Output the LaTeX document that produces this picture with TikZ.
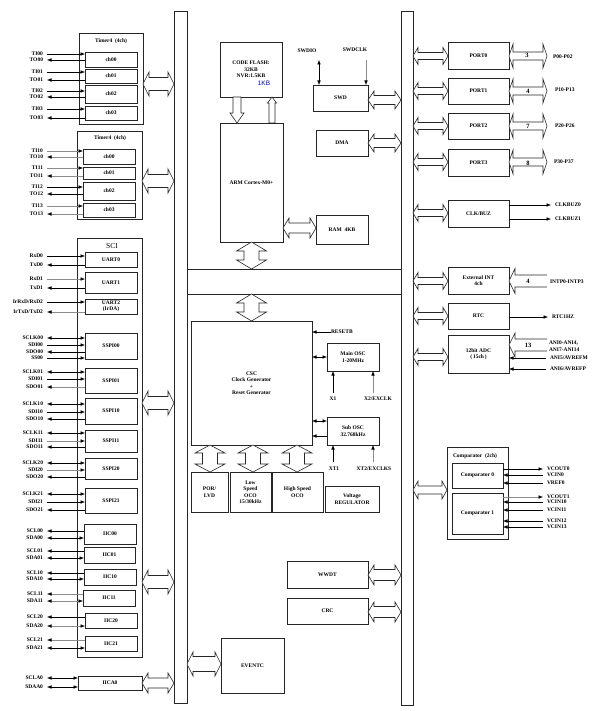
\documentclass[tikz,border=0pt]{standalone}
\usepackage{fontspec}
\setmainfont{Liberation Serif}
\setsansfont{Liberation Sans}
\usetikzlibrary{calc,arrows.meta}
\newcommand\lbf{\fontsize{5.5}{6.5}\selectfont\bfseries}
\newcommand\bx[6]{\node[box, minimum width={(#4-#2)*1pt}, minimum height={(#5-#3)*1pt}] (#1) at ({(#2+#4)/2},{(#3+#5)/2}) {#6};}
% horizontal double block arrow: left point, right point, head half, shaft half, head length
\newcommand\HDA[5]{\draw[barrow] let \p1=(#1), \p2=(#2) in (\x1,\y1) -- (\x1+#5,\y1+#3) -- (\x1+#5,\y1+#4) -- (\x2-#5,\y1+#4) -- (\x2-#5,\y1+#3) -- (\x2,\y1) -- (\x2-#5,\y1-#3) -- (\x2-#5,\y1-#4) -- (\x1+#5,\y1-#4) -- (\x1+#5,\y1-#3) -- cycle;}
% vertical double block arrow: top point, bottom point
\newcommand\VDA[5]{\draw[barrow] let \p1=(#1), \p2=(#2) in (\x1,\y1) -- (\x1+#3,\y1-#5) -- (\x1+#4,\y1-#5) -- (\x1+#4,\y2+#5) -- (\x1+#3,\y2+#5) -- (\x1,\y2) -- (\x1-#3,\y2+#5) -- (\x1-#4,\y2+#5) -- (\x1-#4,\y1-#5) -- (\x1-#3,\y1-#5) -- cycle;}
% single down arrow (tip at bottom)
\newcommand\VDown[5]{\draw[barrow] let \p1=(#1), \p2=(#2) in (\x1-#4,\y1) -- (\x1-#4,\y2+#5) -- (\x1-#3,\y2+#5) -- (\x1,\y2) -- (\x1+#3,\y2+#5) -- (\x1+#4,\y2+#5) -- (\x1+#4,\y1) -- cycle;}
% single up arrow (tip at top)
\newcommand\VUp[5]{\draw[barrow] let \p1=(#1), \p2=(#2) in (\x1-#4,\y2) -- (\x1-#4,\y1-#5) -- (\x1-#3,\y1-#5) -- (\x1,\y1) -- (\x1+#3,\y1-#5) -- (\x1+#4,\y1-#5) -- (\x1+#4,\y2) -- cycle;}
% left pointing input block arrow (tip at first point), open tail
\newcommand\HIn[5]{\draw[barrow] let \p1=(#1), \p2=(#2) in (\x2,\y1+#4) -- (\x1+#5,\y1+#4) -- (\x1+#5,\y1+#3) -- (\x1,\y1) -- (\x1+#5,\y1-#3) -- (\x1+#5,\y1-#4) -- (\x2,\y1-#4);}
% left pin: name, y, text, box, style
\newcommand\lp[5]{\node[lbl, anchor=east] (#1) at (43,#2) {#3}; \draw[#5] ([xshift=4pt]#1.east) -- (#4.west |- #1.east);}
% right pin: name, x, y, text, box, style
\newcommand\rp[6]{\node[lbl, anchor=west] (#1) at (#2,#3) {#4}; \draw[#6] (#5.east |- #1.west) -- ([xshift=-4pt]#1.west);}
\begin{document}
\begin{tikzpicture}[x=1pt,y=-1pt,
 box/.style={draw=black!85, line width=0.6pt, inner sep=0pt, outer sep=0pt, align=center, font=\lbf},
 lbl/.style={inner sep=0pt, outer sep=0pt, font=\lbf},
 barrow/.style={draw=black!85, line width=0.6pt, fill=white, line join=miter},
 tip/.tip={Latex[length=4.5pt,width=3.6pt,color=black]},
 tE/.style={-tip, line width=0.55pt},
 tS/.style={tip-, line width=0.55pt},
 tB/.style={tip-tip, line width=0.55pt},
 gry/.style={draw=black!45},
 num/.style={inner sep=0pt, font=\fontsize{6.5}{7}\selectfont\bfseries}
]
\useasboundingbox[fill=white] (0,0) rectangle (599,711);

% ---------- buses ----------
\bx{lbus}{174}{11}{187}{703}{}
\bx{rbus}{401}{11}{413}{705}{}
\draw[line width=0.6pt, black!85] (lbus.east |- 0,269) -- (rbus.west |- 0,269);
\draw[line width=0.6pt, black!85] (lbus.east |- 0,294) -- (rbus.west |- 0,294);

% ---------- Timer A ----------
\bx{tmA}{79}{33}{143}{124}{}
\node[lbl] (tmAt) at (111,41) {Timer4\ \ (4ch)};
\bx{tA0}{85}{52}{137}{67}{ch00}
\bx{tA1}{85}{69}{137}{83}{ch01}
\bx{tA2}{85}{85}{137}{103}{ch02}
\bx{tA3}{85}{106}{137}{120}{ch03}
\lp{ti00}{54}{TI00}{tA0}{tE}
\lp{to00}{60}{TO00}{tA0}{tS}
\lp{ti01}{72}{TI01}{tA1}{tE}
\lp{to01}{80}{TO01}{tA1}{tS}
\lp{ti02}{91}{TI02}{tA2}{tE}
\lp{to02}{97}{TO02}{tA2}{tS}
\lp{ti03}{109}{TI03}{tA3}{tE}
\lp{to03}{118}{TO03}{tA3}{tS}
\HDA{tmA.east |- 0,84}{lbus.west |- 0,84}{12pt}{6.5pt}{6pt}

% ---------- Timer B ----------
\bx{tmB}{77}{131}{142}{219}{}
\node[lbl] (tmBt) at (110,138) {Timer4\ \ (4ch)};
\bx{tB0}{83}{149}{135}{164}{ch00}
\bx{tB1}{83}{167}{135}{179}{ch01}
\bx{tB2}{83}{182}{135}{200}{ch02}
\bx{tB3}{83}{203}{135}{217}{ch03}
\lp{ti10}{151}{TI10}{tB0}{tE,gry}
\lp{to10}{157}{TO10}{tB0}{tS,gry}
\lp{ti11}{168}{TI11}{tB1}{tE,gry}
\lp{to11}{176}{TO11}{tB1}{tS,gry}
\lp{ti12}{187}{TI12}{tB2}{tE}
\lp{to12}{194}{TO12}{tB2}{tS}
\lp{ti13}{206}{TI13}{tB3}{tE,gry}
\lp{to13}{214}{TO13}{tB3}{tS,gry}
\HDA{tmB.east |- 0,181}{lbus.west |- 0,181}{12pt}{6.5pt}{6pt}

% ---------- SCI ----------
\bx{sci}{77}{238}{142}{657}{}
\node[inner sep=0pt, font=\fontsize{7.5}{8}\selectfont] (scit) at (112,246) {SCI};
\bx{u0}{85}{252}{137}{267}{UART0}
\bx{u1}{85}{272}{137}{293}{UART1}
\bx{u2}{85}{299}{137}{314}{UART2\\(IrDA)}
\bx{s00}{85}{333}{137}{359}{SSPI00}
\bx{s01}{85}{368}{137}{393}{SSPI01}
\bx{s10}{85}{398}{137}{424}{SSPI10}
\bx{s11}{85}{430}{137}{452}{SSPI11}
\bx{s20}{85}{458}{137}{479}{SSPI20}
\bx{s21}{85}{488}{137}{513}{SSPI21}
\bx{i00}{84}{524}{136}{544}{IIC00}
\bx{i01}{84}{547}{135}{563}{IIC01}
\bx{i10}{84}{569}{136}{585}{IIC10}
\bx{i11}{83}{590}{135}{606}{IIC11}
\bx{i20}{85}{613}{137}{628}{IIC20}
\bx{i21}{85}{636}{137}{651}{IIC21}
\lp{rxd0}{256}{RxD0}{u0}{tE}
\lp{txd0}{265}{TxD0}{u0}{tS}
\lp{rxd1}{279}{RxD1}{u1}{tE,gry}
\lp{txd1}{288}{TxD1}{u1}{tS}
\lp{rxd2}{302}{IrRxD/RxD2}{u2}{tE}
\lp{txd2}{312}{IrTxD/TxD2}{u2}{tS,gry}
\lp{sclk00}{338}{SCLK00}{s00}{tB}
\lp{sdi00}{345}{SDI00}{s00}{tE}
\lp{sdo00}{352}{SDO00}{s00}{tS}
\lp{ss00}{358}{SS00}{s00}{tE}
\lp{sclk01}{372}{SCLK01}{s01}{tB}
\lp{sdi01}{379}{SDI01}{s01}{tE}
\lp{sdo01}{387}{SDO01}{s01}{tS,gry}
\lp{sclk10}{404}{SCLK10}{s10}{tB}
\lp{sdi10}{412}{SDI10}{s10}{tE}
\lp{sdo10}{419}{SDO10}{s10}{tS}
\lp{sclk11}{433}{SCLK11}{s11}{tB}
\lp{sdi11}{441}{SDI11}{s11}{tE,gry}
\lp{sdo11}{447}{SDO11}{s11}{tS}
\lp{sclk20}{463}{SCLK20}{s20}{tB}
\lp{sdi20}{470}{SDI20}{s20}{tE,gry}
\lp{sdo20}{477}{SDO20}{s20}{tS}
\lp{sclk21}{494}{SCLK21}{s21}{tB}
\lp{sdi21}{502}{SDI21}{s21}{tE}
\lp{sdo21}{510}{SDO21}{s21}{tS}
\lp{scl00}{531}{SCL00}{i00}{tS}
\lp{sda00}{538}{SDA00}{i00}{tB}
\lp{scl01}{551}{SCL01}{i01}{tS}
\lp{sda01}{558}{SDA01}{i01}{tB}
\lp{scl10}{573}{SCL10}{i10}{tS}
\lp{sda10}{579}{SDA10}{i10}{tB}
\lp{scl11}{594}{SCL11}{i11}{tS,gry}
\lp{sda11}{601}{SDA11}{i11}{tB,gry}
\lp{scl20}{617}{SCL20}{i20}{tS}
\lp{sda20}{626}{SDA20}{i20}{tB,gry}
\lp{scl21}{640}{SCL21}{i21}{tS,gry}
\lp{sda21}{648}{SDA21}{i21}{tB}
\HDA{sci.east |- 0,403}{lbus.west |- 0,403}{12pt}{6.5pt}{6pt}
\HDA{sci.east |- 0,582}{lbus.west |- 0,582}{12pt}{6.5pt}{6pt}

% ---------- IICA0 ----------
\bx{iica}{78}{676}{142}{690}{IICA0}
\lp{scla0}{678}{SCLA0}{iica}{tB}
\lp{sdaa0}{687}{SDAA0}{iica}{tB}
\HDA{iica.east |- 0,683}{lbus.west |- 0,683}{10pt}{5pt}{6pt}

% ---------- upper centre ----------
\bx{flash}{220}{42}{282}{97}{CODE FLASH:\\32KB\\NVR:1.5KB}
\node[inner sep=0pt, font=\sffamily\fontsize{6.5}{7}\selectfont, text=blue!80!black] (kb1) at (264,83) {1KB};
\bx{arm}{220}{123}{283}{242}{ARM Cortex-M0+}
\VDown{flash.south -| 237,0}{arm.north -| 237,0}{7pt}{4pt}{10pt}
\VUp{flash.south -| 272,0}{arm.north -| 272,0}{4.5pt}{3pt}{6pt}
\bx{swd}{313}{85}{368}{111}{SWD}
\bx{dma}{316}{130}{368}{156}{DMA}
\bx{ram}{316}{215}{368}{244}{RAM\ \ 4KB}
\node[lbl] (swdio) at (307,51) {SWDIO};
\node[lbl] (swdclk) at (355,50) {SWDCLK};
\coordinate (swdioE) at (319,60);
\coordinate (swdclkE) at (366,60);
\draw[tB] (swdioE) -- (swd.north -| swdioE);
\draw[tE,gry] (swdclkE) -- (swd.north -| swdclkE);
\HDA{swd.east |- 0,100}{rbus.west |- 0,100}{9pt}{4.5pt}{6pt}
\HDA{dma.east |- 0,143}{rbus.west |- 0,143}{9pt}{4.5pt}{6pt}
\HDA{arm.east |- 0,228}{ram.west |- 0,228}{10pt}{5pt}{6pt}
\VDA{arm.south}{arm.south |- 0,269}{15pt}{7.5pt}{9pt}

% ---------- lower centre ----------
\bx{csc}{191}{321}{312}{445}{CSC\\Clock Generator\\+\\Reset Generator}
\VDA{csc.north |- 0,294}{csc.north}{15pt}{7.5pt}{9pt}
\bx{mosc}{327}{343}{379}{371}{Main OSC\\1-20MHz}
\bx{sosc}{327}{417}{379}{445}{Sub OSC\\32.768kHz}
\node[lbl, anchor=west] (rst) at (331,332) {RESETB};
\draw[tE] (rst.west) -- (csc.east |- rst.west);
\draw[tB] (csc.east |- 0,357) -- (mosc.west |- 0,357);
\draw[tB] (csc.east |- 0,421) -- (sosc.west |- 0,421);
\draw[tE] (sosc.west |- 0,436) -- (csc.east |- 0,436);
\node[lbl] (x1) at (333,399) {X1};
\node[lbl] (x2) at (378,399) {X2/EXCLK};
\coordinate (x1E) at (333,393);
\coordinate (x2E) at (373,393);
\draw[tE] (x1E) -- (mosc.south -| x1E);
\draw[tE,gry] (x2E) -- (mosc.south -| x2E);
\node[lbl] (xt1) at (334,469) {XT1};
\node[lbl] (xt2) at (374,469) {XT2/EXCLKS};
\coordinate (xt1E) at (333,462);
\coordinate (xt2E) at (373,462);
\draw[tE] (xt1E) -- (sosc.south -| xt1E);
\draw[tE,gry] (xt2E) -- (sosc.south -| xt2E);
\bx{por}{191}{472}{228}{512}{POR/\\LVD}
\bx{lso}{230}{472}{271}{512}{Low\\Speed\\OCO\\15/30kHz}
\bx{hso}{272}{472}{323}{512}{High Speed\\OCO}
\bx{vreg}{325}{486}{379}{512}{Voltage\\REGULATOR}
\VDA{csc.south -| 210,0}{por.north -| 210,0}{15pt}{7.5pt}{8pt}
\VDA{csc.south -| 253,0}{lso.north -| 253,0}{15pt}{7.5pt}{8pt}
\VDA{csc.south -| 297,0}{hso.north -| 297,0}{15pt}{7.5pt}{8pt}
\bx{wwdt}{287}{561}{368}{588}{WWDT}
\bx{crc}{287}{598}{368}{624}{CRC}
\HDA{wwdt.east |- 0,575}{rbus.west |- 0,575}{10pt}{5.5pt}{6pt}
\HDA{crc.east |- 0,612}{rbus.west |- 0,612}{10pt}{5.5pt}{6pt}
\bx{evt}{221}{638}{284}{693}{EVENTC}
\HDA{lbus.east |- 0,664}{evt.west |- 0,664}{12pt}{7.5pt}{6pt}

% ---------- right: ports ----------
\bx{p0}{448}{42}{509}{69}{PORT0}
\bx{p1}{448}{78}{509}{104}{PORT1}
\bx{p2}{448}{113}{509}{139}{PORT2}
\bx{p3}{448}{149}{509}{176}{PORT3}
\HDA{rbus.east |- 0,56}{p0.west |- 0,56}{8.5pt}{3.5pt}{5pt}
\HDA{rbus.east |- 0,91}{p1.west |- 0,91}{8.5pt}{3.5pt}{5pt}
\HDA{rbus.east |- 0,126}{p2.west |- 0,126}{8.5pt}{3.5pt}{5pt}
\HDA{rbus.east |- 0,162}{p3.west |- 0,162}{8.5pt}{3.5pt}{5pt}
\coordinate (p0R) at (547,56);
\coordinate (p1R) at (547,91);
\coordinate (p2R) at (547,126);
\coordinate (p3R) at (547,162);
\HDA{p0.east |- p0R}{p0R}{12pt}{4pt}{4pt}
\HDA{p1.east |- p1R}{p1R}{12pt}{4pt}{4pt}
\HDA{p2.east |- p2R}{p2R}{12pt}{4pt}{4pt}
\HDA{p3.east |- p3R}{p3R}{12pt}{4pt}{4pt}
\node[num] (n3) at (527,55) {3};
\node[num] (n4) at (528,91) {4};
\node[num] (n7) at (528,126) {7};
\node[num] (n8) at (528,163) {8};
\node[lbl, anchor=west] (pp0) at (553,57) {P00-P02};
\node[lbl, anchor=west] (pp1) at (555,90) {P10-P13};
\node[lbl, anchor=west] (pp2) at (555,126) {P20-P26};
\node[lbl, anchor=west] (pp3) at (554,162) {P30-P37};

% ---------- CLK/BUZ ----------
\bx{clk}{448}{200}{509}{227}{CLK/BUZ}
\HDA{rbus.east |- 0,213}{clk.west |- 0,213}{8.5pt}{3.5pt}{5pt}
\rp{cb0}{555}{205}{CLKBUZ0}{clk}{tE}
\rp{cb1}{555}{219}{CLKBUZ1}{clk}{tE}

% ---------- External INT ----------
\bx{eint}{448}{267}{509}{294}{External INT\\4ch}
\HDA{rbus.east |- 0,281}{eint.west |- 0,281}{8.5pt}{3.5pt}{5pt}
\coordinate (eintR) at (547,281);
\HIn{eint.east |- eintR}{eintR}{12.5pt}{6pt}{6pt}
\node[num] (n4i) at (528,281) {4};
\node[lbl, anchor=west] (intp) at (550,282) {INTP0-INTP3};

% ---------- RTC ----------
\bx{rtc}{448}{303}{509}{329}{RTC}
\HDA{rbus.east |- 0,316}{rtc.west |- 0,316}{8.5pt}{3.5pt}{5pt}
\rp{rtc1}{552}{317}{RTC1HZ}{rtc}{tE}

% ---------- ADC ----------
\bx{adc}{448}{335}{509}{373}{12bit ADC\\(\,15ch\,)}
\HDA{rbus.east |- 0,357}{adc.west |- 0,357}{8.5pt}{3.5pt}{5pt}
\coordinate (adcR) at (547,345);
\HIn{adc.east |- adcR}{adcR}{12pt}{6pt}{6pt}
\node[num] (n13) at (528,345) {13};
\node[lbl, anchor=west] (ani0) at (549,343) {ANI0-ANI4,};
\node[lbl, anchor=west] (ani7) at (549,350) {ANI7-ANI14};
\rp{ani5}{550}{358}{ANI5/AVREFM}{adc}{tS}
\rp{ani6}{550}{369}{ANI6/AVREFP}{adc}{tS}

% ---------- Comparator ----------
\bx{comp}{447}{447}{508}{539}{}
\node[lbl, anchor=west] (compt) at (453,456) {Comparator\ \ (2ch)};
\bx{c0}{452}{463}{503}{488}{Comparator 0}
\bx{c1}{452}{493}{503}{534}{Comparator 1}
\HDA{rbus.east |- 0,490}{comp.west |- 0,490}{9pt}{4pt}{5pt}
\rp{vco0}{547}{469}{VCOUT0}{c0}{tE}
\rp{vci0}{547}{475}{VCIN0}{c0}{tS}
\rp{vref0}{547}{483}{VREF0}{c0}{tS}
\rp{vco1}{547}{497}{VCOUT1}{c1}{tE,gry}
\rp{vci10}{547}{502}{VCIN10}{c1}{tS}
\rp{vci11}{547}{510}{VCIN11}{c1}{tS}
\rp{vci12}{547}{521}{VCIN12}{c1}{tS}
\rp{vci13}{547}{527}{VCIN13}{c1}{tS}
\end{tikzpicture}
\end{document}
